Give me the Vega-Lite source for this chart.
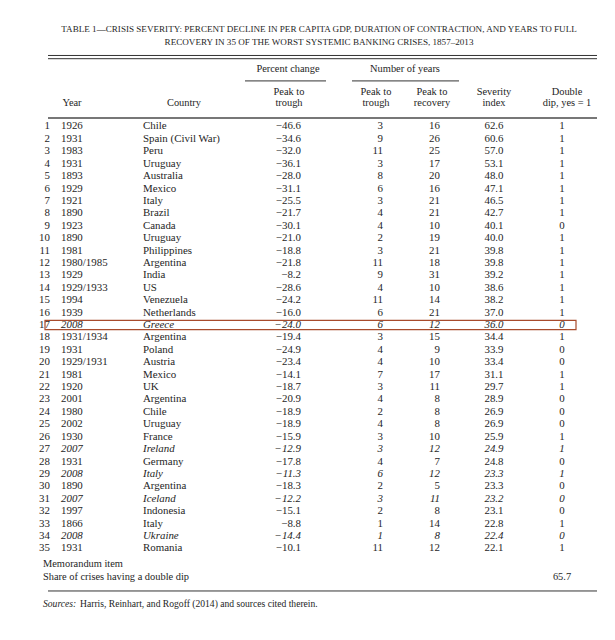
{
"$schema":"https://vega.github.io/schema/vega-lite/v6.json",
"width":615,"height":640,"padding":0,
"autosize":{"type":"fit","contains":"padding"},
"background":"#ffffff",
"config":{"view":{"stroke":null},"text":{"font":"Liberation Serif","fontSize":10.9,"color":"#1e1e1e","baseline":"middle"}},
"datasets":{"crises":[
{"rank":1,"year":"1926","country":"Chile","pct":-46.6,"ptt":3,"ptr":16,"sev":62.6,"dd":1,"ongoing":false},
{"rank":2,"year":"1931","country":"Spain (Civil War)","pct":-34.6,"ptt":9,"ptr":26,"sev":60.6,"dd":1,"ongoing":false},
{"rank":3,"year":"1983","country":"Peru","pct":-32.0,"ptt":11,"ptr":25,"sev":57.0,"dd":1,"ongoing":false},
{"rank":4,"year":"1931","country":"Uruguay","pct":-36.1,"ptt":3,"ptr":17,"sev":53.1,"dd":1,"ongoing":false},
{"rank":5,"year":"1893","country":"Australia","pct":-28.0,"ptt":8,"ptr":20,"sev":48.0,"dd":1,"ongoing":false},
{"rank":6,"year":"1929","country":"Mexico","pct":-31.1,"ptt":6,"ptr":16,"sev":47.1,"dd":1,"ongoing":false},
{"rank":7,"year":"1921","country":"Italy","pct":-25.5,"ptt":3,"ptr":21,"sev":46.5,"dd":1,"ongoing":false},
{"rank":8,"year":"1890","country":"Brazil","pct":-21.7,"ptt":4,"ptr":21,"sev":42.7,"dd":1,"ongoing":false},
{"rank":9,"year":"1923","country":"Canada","pct":-30.1,"ptt":4,"ptr":10,"sev":40.1,"dd":0,"ongoing":false},
{"rank":10,"year":"1890","country":"Uruguay","pct":-21.0,"ptt":2,"ptr":19,"sev":40.0,"dd":1,"ongoing":false},
{"rank":11,"year":"1981","country":"Philippines","pct":-18.8,"ptt":3,"ptr":21,"sev":39.8,"dd":1,"ongoing":false},
{"rank":12,"year":"1980/1985","country":"Argentina","pct":-21.8,"ptt":11,"ptr":18,"sev":39.8,"dd":1,"ongoing":false},
{"rank":13,"year":"1929","country":"India","pct":-8.2,"ptt":9,"ptr":31,"sev":39.2,"dd":1,"ongoing":false},
{"rank":14,"year":"1929/1933","country":"US","pct":-28.6,"ptt":4,"ptr":10,"sev":38.6,"dd":1,"ongoing":false},
{"rank":15,"year":"1994","country":"Venezuela","pct":-24.2,"ptt":11,"ptr":14,"sev":38.2,"dd":1,"ongoing":false},
{"rank":16,"year":"1939","country":"Netherlands","pct":-16.0,"ptt":6,"ptr":21,"sev":37.0,"dd":1,"ongoing":false},
{"rank":17,"year":"2008","country":"Greece","pct":-24.0,"ptt":6,"ptr":12,"sev":36.0,"dd":0,"ongoing":true},
{"rank":18,"year":"1931/1934","country":"Argentina","pct":-19.4,"ptt":3,"ptr":15,"sev":34.4,"dd":1,"ongoing":false},
{"rank":19,"year":"1931","country":"Poland","pct":-24.9,"ptt":4,"ptr":9,"sev":33.9,"dd":0,"ongoing":false},
{"rank":20,"year":"1929/1931","country":"Austria","pct":-23.4,"ptt":4,"ptr":10,"sev":33.4,"dd":0,"ongoing":false},
{"rank":21,"year":"1981","country":"Mexico","pct":-14.1,"ptt":7,"ptr":17,"sev":31.1,"dd":1,"ongoing":false},
{"rank":22,"year":"1920","country":"UK","pct":-18.7,"ptt":3,"ptr":11,"sev":29.7,"dd":1,"ongoing":false},
{"rank":23,"year":"2001","country":"Argentina","pct":-20.9,"ptt":4,"ptr":8,"sev":28.9,"dd":0,"ongoing":false},
{"rank":24,"year":"1980","country":"Chile","pct":-18.9,"ptt":2,"ptr":8,"sev":26.9,"dd":0,"ongoing":false},
{"rank":25,"year":"2002","country":"Uruguay","pct":-18.9,"ptt":4,"ptr":8,"sev":26.9,"dd":0,"ongoing":false},
{"rank":26,"year":"1930","country":"France","pct":-15.9,"ptt":3,"ptr":10,"sev":25.9,"dd":1,"ongoing":false},
{"rank":27,"year":"2007","country":"Ireland","pct":-12.9,"ptt":3,"ptr":12,"sev":24.9,"dd":1,"ongoing":true},
{"rank":28,"year":"1931","country":"Germany","pct":-17.8,"ptt":4,"ptr":7,"sev":24.8,"dd":0,"ongoing":false},
{"rank":29,"year":"2008","country":"Italy","pct":-11.3,"ptt":6,"ptr":12,"sev":23.3,"dd":1,"ongoing":true},
{"rank":30,"year":"1890","country":"Argentina","pct":-18.3,"ptt":2,"ptr":5,"sev":23.3,"dd":0,"ongoing":false},
{"rank":31,"year":"2007","country":"Iceland","pct":-12.2,"ptt":3,"ptr":11,"sev":23.2,"dd":0,"ongoing":true},
{"rank":32,"year":"1997","country":"Indonesia","pct":-15.1,"ptt":2,"ptr":8,"sev":23.1,"dd":0,"ongoing":false},
{"rank":33,"year":"1866","country":"Italy","pct":-8.8,"ptt":1,"ptr":14,"sev":22.8,"dd":1,"ongoing":false},
{"rank":34,"year":"2008","country":"Ukraine","pct":-14.4,"ptt":1,"ptr":8,"sev":22.4,"dd":0,"ongoing":true},
{"rank":35,"year":"1931","country":"Romania","pct":-10.1,"ptt":11,"ptr":12,"sev":22.1,"dd":1,"ongoing":false}
]},
"data":{"name":"crises"},
"layer":[
{"mark":{"type":"text","align":"right"},"encoding":{
 "x":{"datum":50,"type":"quantitative","scale":{"domain":[0,615],"nice":false,"zero":false},"axis":null},
 "y":{"field":"rank","type":"quantitative","scale":{"domain":[-9.19,42.38],"nice":false,"zero":false,"reverse":true},"axis":null},
 "text":{"field":"rank"}}},
{"transform":[{"filter":"!datum.ongoing"}],"layer":[
 {"mark":{"type":"text","align":"left"},"encoding":{"x":{"datum":61,"type":"quantitative","axis":null},"y":{"field":"rank","type":"quantitative","axis":null},"text":{"field":"year"}}},
 {"mark":{"type":"text","align":"left"},"encoding":{"x":{"datum":143,"type":"quantitative","axis":null},"y":{"field":"rank","type":"quantitative","axis":null},"text":{"field":"country"}}},
 {"mark":{"type":"text","align":"right"},"encoding":{"x":{"datum":301,"type":"quantitative","axis":null},"y":{"field":"rank","type":"quantitative","axis":null},"text":{"field":"pct","type":"quantitative","format":".1f"}}},
 {"mark":{"type":"text","align":"right"},"encoding":{"x":{"datum":383,"type":"quantitative","axis":null},"y":{"field":"rank","type":"quantitative","axis":null},"text":{"field":"ptt"}}},
 {"mark":{"type":"text","align":"right"},"encoding":{"x":{"datum":440,"type":"quantitative","axis":null},"y":{"field":"rank","type":"quantitative","axis":null},"text":{"field":"ptr"}}},
 {"mark":{"type":"text","align":"center"},"encoding":{"x":{"datum":494,"type":"quantitative","axis":null},"y":{"field":"rank","type":"quantitative","axis":null},"text":{"field":"sev","type":"quantitative","format":".1f"}}},
 {"mark":{"type":"text","align":"center"},"encoding":{"x":{"datum":562,"type":"quantitative","axis":null},"y":{"field":"rank","type":"quantitative","axis":null},"text":{"field":"dd"}}}
]},
{"transform":[{"filter":"datum.ongoing"}],"layer":[
 {"mark":{"type":"text","align":"left","fontStyle":"italic"},"encoding":{"x":{"datum":61,"type":"quantitative","axis":null},"y":{"field":"rank","type":"quantitative","axis":null},"text":{"field":"year"}}},
 {"mark":{"type":"text","align":"left","fontStyle":"italic"},"encoding":{"x":{"datum":143,"type":"quantitative","axis":null},"y":{"field":"rank","type":"quantitative","axis":null},"text":{"field":"country"}}},
 {"mark":{"type":"text","align":"right","fontStyle":"italic"},"encoding":{"x":{"datum":301,"type":"quantitative","axis":null},"y":{"field":"rank","type":"quantitative","axis":null},"text":{"field":"pct","type":"quantitative","format":".1f"}}},
 {"mark":{"type":"text","align":"right","fontStyle":"italic"},"encoding":{"x":{"datum":383,"type":"quantitative","axis":null},"y":{"field":"rank","type":"quantitative","axis":null},"text":{"field":"ptt"}}},
 {"mark":{"type":"text","align":"right","fontStyle":"italic"},"encoding":{"x":{"datum":440,"type":"quantitative","axis":null},"y":{"field":"rank","type":"quantitative","axis":null},"text":{"field":"ptr"}}},
 {"mark":{"type":"text","align":"center","fontStyle":"italic"},"encoding":{"x":{"datum":494,"type":"quantitative","axis":null},"y":{"field":"rank","type":"quantitative","axis":null},"text":{"field":"sev","type":"quantitative","format":".1f"}}},
 {"mark":{"type":"text","align":"center","fontStyle":"italic"},"encoding":{"x":{"datum":562,"type":"quantitative","axis":null},"y":{"field":"rank","type":"quantitative","axis":null},"text":{"field":"dd"}}}
]},
{"data":{"values":[{}]},"layer":[
 {"mark":{"type":"rect","filled":false,"stroke":"#a84b2c","strokeWidth":1.2},"encoding":{"x":{"datum":45,"type":"quantitative","axis":null},"x2":{"datum":576},"y":{"datum":16.63,"type":"quantitative","axis":null},"y2":{"datum":17.37}}},
 {"mark":{"type":"rule","color":"#333333","strokeWidth":1},"encoding":{"x":{"datum":48,"type":"quantitative","axis":null},"x2":{"datum":597},"y":{"datum":-4.72,"type":"quantitative","axis":null}}},
 {"mark":{"type":"rule","color":"#333333","strokeWidth":1},"encoding":{"x":{"datum":48,"type":"quantitative","axis":null},"x2":{"datum":597},"y":{"datum":-4.46,"type":"quantitative","axis":null}}},
 {"mark":{"type":"rule","color":"#333333","strokeWidth":1},"encoding":{"x":{"datum":245,"type":"quantitative","axis":null},"x2":{"datum":326},"y":{"datum":-2.67,"type":"quantitative","axis":null}}},
 {"mark":{"type":"rule","color":"#333333","strokeWidth":1},"encoding":{"x":{"datum":352,"type":"quantitative","axis":null},"x2":{"datum":459},"y":{"datum":-2.67,"type":"quantitative","axis":null}}},
 {"mark":{"type":"rule","color":"#777777","strokeWidth":2},"encoding":{"x":{"datum":48,"type":"quantitative","axis":null},"x2":{"datum":597},"y":{"datum":0.315,"type":"quantitative","axis":null}}},
 {"mark":{"type":"rule","color":"#333333","strokeWidth":1},"encoding":{"x":{"datum":48,"type":"quantitative","axis":null},"x2":{"datum":597},"y":{"datum":38.43,"type":"quantitative","axis":null}}},
 {"mark":{"type":"text","align":"center","fontSize":9.1,"text":"TABLE 1—CRISIS SEVERITY: PERCENT DECLINE IN PER CAPITA GDP, DURATION OF CONTRACTION, AND YEARS TO FULL"},"encoding":{"x":{"datum":319,"type":"quantitative","axis":null},"y":{"datum":-6.85,"type":"quantitative","axis":null}}},
 {"mark":{"type":"text","align":"center","fontSize":9.1,"text":"RECOVERY IN 35 OF THE WORST SYSTEMIC BANKING CRISES, 1857–2013"},"encoding":{"x":{"datum":319,"type":"quantitative","axis":null},"y":{"datum":-5.8,"type":"quantitative","axis":null}}},
 {"mark":{"type":"text","align":"center","fontSize":10.4,"text":"Percent change"},"encoding":{"x":{"datum":288,"type":"quantitative","axis":null},"y":{"datum":-3.63,"type":"quantitative","axis":null}}},
 {"mark":{"type":"text","align":"center","fontSize":10.4,"text":"Number of years"},"encoding":{"x":{"datum":405,"type":"quantitative","axis":null},"y":{"datum":-3.63,"type":"quantitative","axis":null}}},
 {"mark":{"type":"text","align":"center","fontSize":10.4,"text":"Peak to"},"encoding":{"x":{"datum":289,"type":"quantitative","axis":null},"y":{"datum":-1.78,"type":"quantitative","axis":null}}},
 {"mark":{"type":"text","align":"center","fontSize":10.4,"text":"trough"},"encoding":{"x":{"datum":289,"type":"quantitative","axis":null},"y":{"datum":-0.89,"type":"quantitative","axis":null}}},
 {"mark":{"type":"text","align":"center","fontSize":10.4,"text":"Peak to"},"encoding":{"x":{"datum":376,"type":"quantitative","axis":null},"y":{"datum":-1.78,"type":"quantitative","axis":null}}},
 {"mark":{"type":"text","align":"center","fontSize":10.4,"text":"trough"},"encoding":{"x":{"datum":376,"type":"quantitative","axis":null},"y":{"datum":-0.89,"type":"quantitative","axis":null}}},
 {"mark":{"type":"text","align":"center","fontSize":10.4,"text":"Peak to"},"encoding":{"x":{"datum":432,"type":"quantitative","axis":null},"y":{"datum":-1.78,"type":"quantitative","axis":null}}},
 {"mark":{"type":"text","align":"center","fontSize":10.4,"text":"recovery"},"encoding":{"x":{"datum":432,"type":"quantitative","axis":null},"y":{"datum":-0.89,"type":"quantitative","axis":null}}},
 {"mark":{"type":"text","align":"center","fontSize":10.4,"text":"Severity"},"encoding":{"x":{"datum":494,"type":"quantitative","axis":null},"y":{"datum":-1.78,"type":"quantitative","axis":null}}},
 {"mark":{"type":"text","align":"center","fontSize":10.4,"text":"index"},"encoding":{"x":{"datum":494,"type":"quantitative","axis":null},"y":{"datum":-0.89,"type":"quantitative","axis":null}}},
 {"mark":{"type":"text","align":"center","fontSize":10.4,"text":"Double"},"encoding":{"x":{"datum":567,"type":"quantitative","axis":null},"y":{"datum":-1.78,"type":"quantitative","axis":null}}},
 {"mark":{"type":"text","align":"center","fontSize":10.4,"text":"dip, yes = 1"},"encoding":{"x":{"datum":567,"type":"quantitative","axis":null},"y":{"datum":-0.89,"type":"quantitative","axis":null}}},
 {"mark":{"type":"text","align":"center","fontSize":10.4,"text":"Year"},"encoding":{"x":{"datum":72,"type":"quantitative","axis":null},"y":{"datum":-0.89,"type":"quantitative","axis":null}}},
 {"mark":{"type":"text","align":"center","fontSize":10.4,"text":"Country"},"encoding":{"x":{"datum":184,"type":"quantitative","axis":null},"y":{"datum":-0.89,"type":"quantitative","axis":null}}},
 {"mark":{"type":"text","align":"left","fontSize":10.4,"text":"Memorandum item"},"encoding":{"x":{"datum":43,"type":"quantitative","axis":null},"y":{"datum":36.25,"type":"quantitative","axis":null}}},
 {"mark":{"type":"text","align":"left","fontSize":10.4,"text":"Share of crises having a double dip"},"encoding":{"x":{"datum":43,"type":"quantitative","axis":null},"y":{"datum":37.3,"type":"quantitative","axis":null}}},
 {"mark":{"type":"text","align":"center","fontSize":10.4,"text":"65.7"},"encoding":{"x":{"datum":562,"type":"quantitative","axis":null},"y":{"datum":37.3,"type":"quantitative","axis":null}}},
 {"mark":{"type":"text","align":"left","fontSize":9.6,"fontStyle":"italic","text":"Sources:"},"encoding":{"x":{"datum":43,"type":"quantitative","axis":null},"y":{"datum":39.48,"type":"quantitative","axis":null}}},
 {"mark":{"type":"text","align":"left","fontSize":9.6,"text":"Harris, Reinhart, and Rogoff (2014) and sources cited therein."},"encoding":{"x":{"datum":80,"type":"quantitative","axis":null},"y":{"datum":39.48,"type":"quantitative","axis":null}}}
]}
]
}
